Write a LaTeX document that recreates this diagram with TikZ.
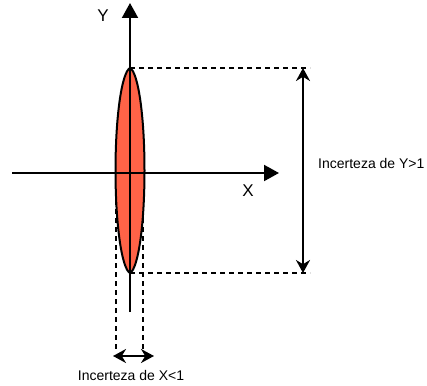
\documentclass[tikz,border=0pt]{standalone}
\usepackage{fontspec}
\setmainfont{Liberation Sans}
\usepackage{xcolor}
\usepackage{tikz}
\usetikzlibrary{arrows.meta}
\definecolor{lensred}{RGB}{255,99,71}

\begin{document}
\begin{tikzpicture}[x=1pt, y=-1pt,
  axis/.style={line width=2pt, -{Triangle[length=15pt,width=16pt]}},
  guide/.style={line width=2pt, dash pattern=on 5pt off 4pt},
  span/.style={line width=2pt, {Stealth[length=13pt,width=14pt]}-{Stealth[length=13pt,width=14pt]}},
  lbl/.style={font=\fontsize{14}{16}\selectfont, inner sep=0pt},
  axlbl/.style={font=\fontsize{17}{19}\selectfont, inner sep=0pt}]
\useasboundingbox (0,0) rectangle (427,385);

% Key points
\coordinate (top) at (130,68);
\coordinate (bot) at (130,273);
\coordinate (topR) at (310,68);
\coordinate (botR) at (310,273);
\coordinate (arrT) at (303,68);
\coordinate (arrB) at (303,273);
\coordinate (leftT) at (116,173);
\coordinate (leftB) at (116,352);
\coordinate (rightT) at (143,173);
\coordinate (rightB) at (143,352);
\coordinate (spanL) at (113,356);
\coordinate (spanR) at (154,356);
\coordinate (yS) at (130,312);
\coordinate (yE) at (130,3);
\coordinate (xS) at (12,173);
\coordinate (xE) at (279,173);

% Dashed guides
\draw[guide] (top) -- (topR);
\draw[guide] (bot) -- (botR);
\draw[guide] (leftT) -- (leftB);
\draw[guide] (rightT) -- (rightB);

% Uncertainty region
\draw[line width=2pt, fill=lensred] (top)
  .. controls (138,72) and (144.5,115) .. (144.5,170.5)
  .. controls (144.5,226) and (138,269) .. (bot)
  .. controls (122,269) and (115.5,226) .. (115.5,170.5)
  .. controls (115.5,115) and (122,72) .. cycle;

% Axes
\draw[axis] (yS) -- (yE);
\draw[axis] (xS) -- (xE);
\node[axlbl] (ylab) at (103,16) {Y};
\node[axlbl] (xlab) at (248,191) {X};

% Spans
\draw[span] (arrT) -- (arrB);
\draw[span] (spanL) -- (spanR);
\node[lbl, anchor=west] (ylbl) at (318,163) {Incerteza de Y>1};
\node[lbl] (xlbl) at (131,375) {Incerteza de X<1};

\end{tikzpicture}
\end{document}
